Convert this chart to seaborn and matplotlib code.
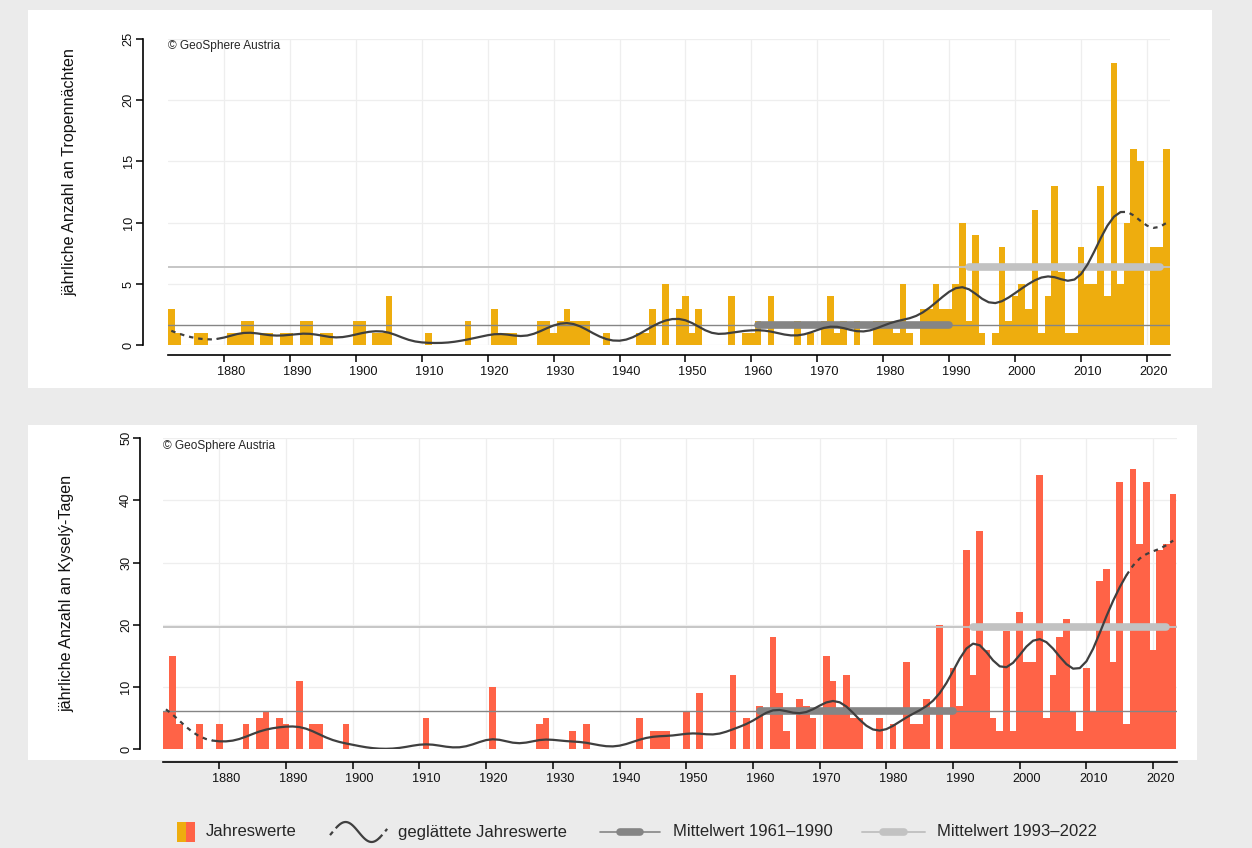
import numpy as np
import pandas as pd
import matplotlib
matplotlib.use("Agg")
import matplotlib.pyplot as plt
import matplotlib.transforms as mtransforms
import seaborn as sns
from matplotlib.patches import Rectangle

# --- data -----------------------------------------------------------------
years = list(range(1872, 2024))

tropennaechte = [
    3, 1, 0, 0, 1, 1, 0, 0,                     # 1872-1879
    0, 1, 1, 2, 2, 0, 1, 1, 0, 1,               # 1880-1889
    1, 0, 2, 2, 0, 1, 1, 0, 0, 0,               # 1890-1899
    2, 2, 0, 1, 1, 4, 0, 0, 0, 0,               # 1900-1909
    0, 1, 0, 0, 0, 0, 0, 2, 0, 0,               # 1910-1919
    0, 3, 1, 1, 1, 0, 0, 0, 2, 2,               # 1920-1929
    1, 2, 3, 2, 2, 2, 0, 0, 1, 0,               # 1930-1939
    0, 0, 0, 1, 1, 3, 0, 5, 0, 3,               # 1940-1949
    4, 1, 3, 0, 0, 0, 0, 4, 0, 1,               # 1950-1959
    1, 2, 0, 4, 0, 0, 0, 2, 0, 1,               # 1960-1969
    0, 2, 4, 1, 2, 0, 2, 0, 0, 2,               # 1970-1979
    2, 2, 1, 5, 1, 0, 3, 3, 5, 3,               # 1980-1989
    3, 5, 10, 2, 9, 1, 0, 1, 8, 2,              # 1990-1999
    4, 5, 3, 11, 1, 4, 13, 6, 1, 1,             # 2000-2009
    8, 5, 5, 13, 4, 23, 5, 10, 16, 15,          # 2010-2019
    0, 8, 8, 16,                                # 2020-2023
]

kysely_tage = [
    6, 15, 4, 0, 0, 4, 0, 0,                    # 1872-1879
    4, 0, 0, 0, 4, 0, 5, 6, 0, 5,               # 1880-1889
    4, 0, 11, 0, 4, 4, 0, 0, 0, 4,              # 1890-1899
    0, 0, 0, 0, 0, 0, 0, 0, 0, 0,               # 1900-1909
    0, 5, 0, 0, 0, 0, 0, 0, 0, 0,               # 1910-1919
    0, 10, 0, 0, 0, 0, 0, 0, 4, 5,              # 1920-1929
    0, 0, 0, 3, 0, 4, 0, 0, 0, 0,               # 1930-1939
    0, 0, 0, 5, 0, 3, 3, 3, 0, 0,               # 1940-1949
    6, 0, 9, 0, 0, 0, 0, 12, 0, 5,              # 1950-1959
    0, 7, 0, 18, 9, 3, 0, 8, 7, 5,              # 1960-1969
    0, 15, 11, 6, 12, 5, 5, 0, 0, 5,            # 1970-1979
    0, 4, 0, 14, 4, 4, 8, 0, 20, 0,             # 1980-1989
    13, 7, 32, 12, 35, 16, 5, 3, 19, 3,         # 1990-1999
    22, 14, 14, 44, 5, 12, 18, 21, 6, 3,        # 2000-2009
    13, 6, 27, 29, 14, 43, 4, 45, 33, 43,       # 2010-2019
    16, 32, 33, 41,                             # 2020-2023
]

ref_old = (1961, 1990)
ref_new = (1993, 2022)
decade_ticks = list(range(1880, 2021, 10))

BAR_TOP = "#EEAD0E"
BAR_BOTTOM = "#FF6347"
SMOOTH = "#3F3F3F"
MEAN_OLD = "#858585"
MEAN_NEW = "#C2C2C2"
BG = "#EBEBEB"

df = pd.DataFrame({"Jahr": years, "Tropennaechte": tropennaechte,
                   "Kysely": kysely_tage})


def gauss_smooth(values, sigma=2.5):
    """Gaussian low-pass filter, renormalised at the series ends"""
    v = np.asarray(values, float)
    idx = np.arange(len(v))
    w = np.exp(-0.5 * ((idx[:, None] - idx[None, :]) / sigma) ** 2)
    return (w @ v) / w.sum(axis=1)


def draw_panel(ax, col, color, ymax, ystep, ylabel, label_xy, x_off, y_off):
    sns.barplot(data=df, x="Jahr", y=col, native_scale=True, width=1,
                color=color, saturation=1, linewidth=0, errorbar=None,
                ax=ax, zorder=2)

    # reference means: thin line over full width + thick segment
    for (y0, y1), c, lw in [(ref_old, MEAN_OLD, 1.0), (ref_new, MEAN_NEW, 1.3)]:
        m = df.loc[df["Jahr"].between(y0, y1), col].mean()
        ax.axhline(m, color=c, lw=lw, zorder=3)
        ax.plot([y0, y1], [m, m], color=c, lw=5.5, solid_capstyle="round",
                zorder=4)

    # smoothed annual values, dashed at both ends
    sm = pd.DataFrame({"Jahr": years, "s": gauss_smooth(df[col])})
    n = len(sm)
    sns.lineplot(data=sm.iloc[7:n - 7], x="Jahr", y="s", color=SMOOTH,
                 lw=1.6, ax=ax, zorder=5)
    for part in (sm.iloc[:8], sm.iloc[n - 8:]):
        sns.lineplot(data=part, x="Jahr", y="s", color=SMOOTH, lw=1.6,
                     linestyle=(0, (2, 2.2)), ax=ax, zorder=5)

    ax.set_xlim(1871.5, 2023.5)
    ax.set_ylim(0, ymax)
    ax.set_xticks(decade_ticks)
    ax.set_yticks(range(0, ymax + 1, ystep))
    ax.grid(True, color="#EEEEEE", lw=0.9)
    ax.set_axisbelow(True)
    ax.set_xlabel("")
    ax.set_ylabel(ylabel, fontsize=11.6, color="#111111")
    ax.yaxis.set_label_coords(*label_xy)

    for s in ("top", "right"):
        ax.spines[s].set_visible(False)
    ax.spines["left"].set_position(("outward", x_off))
    ax.spines["left"].set_bounds(0, ymax)
    ax.spines["bottom"].set_position(("outward", y_off))
    ax.spines["bottom"].set_bounds(1871.5, 2023.5)
    for s in ("left", "bottom"):
        ax.spines[s].set_color("black")
        ax.spines[s].set_linewidth(1.2)
    ax.tick_params(axis="both", direction="out", length=5, width=1.1,
                   color="black", labelsize=9.2, labelcolor="#111111",
                   left=True, bottom=True)
    ax.tick_params(axis="y", pad=1)
    ax.tick_params(axis="x", pad=3)
    for t in ax.get_yticklabels():
        t.set_rotation(90)
        t.set_va("center")
    # year labels sit slightly right of their tick marks in the original
    shift = mtransforms.ScaledTranslation(7 / 100, 0, ax.figure.dpi_scale_trans)
    for t in ax.get_xticklabels():
        t.set_transform(t.get_transform() + shift)
    ax.text(0.0, 0.995, "\u00a9 GeoSphere Austria", transform=ax.transAxes,
            ha="left", va="top", fontsize=8.6, zorder=6)


sns.set_theme(style="white")
plt.rcParams["font.family"] = ["Liberation Sans", "DejaVu Sans"]

W, H = 1252, 848
fig = plt.figure(figsize=(W / 100, H / 100), dpi=100, facecolor=BG)

# white panel backgrounds (behind the axes)
fig.patches.append(Rectangle((28 / W, 1 - 388 / H), (1212 - 28) / W,
                             (388 - 10) / H, transform=fig.transFigure,
                             facecolor="white", edgecolor="none", zorder=-5))
fig.patches.append(Rectangle((28 / W, 1 - 760 / H), (1197 - 28) / W,
                             (760 - 425) / H, transform=fig.transFigure,
                             facecolor="white", edgecolor="none", zorder=-5))

ax1 = fig.add_axes([168 / W, 1 - 345.5 / H, (1170 - 168) / W, (345.5 - 38.5) / H])
ax2 = fig.add_axes([162.6 / W, 1 - 749.3 / H, (1176.5 - 162.6) / W, (749.3 - 438) / H])
for a in (ax1, ax2):
    a.set_facecolor("none")

draw_panel(ax1, "Tropennaechte", BAR_TOP, 25, 5,
           "jährliche Anzahl an Tropennächten", (-0.09, 0.565), 18, 7)
draw_panel(ax2, "Kysely", BAR_BOTTOM, 50, 10,
           "jährliche Anzahl an Kyselý-Tagen", (-0.087, 0.5), 16, 9)

# legend row (drawn in pixel-like layout coordinates)
lg = fig.add_axes([0, 0, 1, 50 / H])
lg.set_xlim(0, W)
lg.set_ylim(50, 0)
lg.axis("off")
yc = 34
lg.add_patch(Rectangle((177, yc - 10), 9, 20, facecolor=BAR_TOP, edgecolor="none"))
lg.add_patch(Rectangle((186, yc - 10), 9, 20, facecolor=BAR_BOTTOM, edgecolor="none"))
lg.text(206, yc, "Jahreswerte", va="center", ha="left", fontsize=12)

gx = np.linspace(-0.05, 1.05, 66)
gy = yc - 10 * np.sin(2 * np.pi * gx)
gxx = 330 + (gx + 0.05) * 52
lg.plot(gxx[9:57], gy[9:57], color=SMOOTH, lw=1.6)
lg.plot(gxx[:10], gy[:10], color=SMOOTH, lw=1.6, ls=(0, (2, 2)))
lg.plot(gxx[56:], gy[56:], color=SMOOTH, lw=1.6, ls=(0, (2, 2)))
lg.text(398, yc, "geglättete Jahreswerte", va="center", ha="left", fontsize=12)

lg.plot([600, 660], [yc, yc], color=MEAN_OLD, lw=1.2)
lg.plot([620, 640], [yc, yc], color=MEAN_OLD, lw=5.5, solid_capstyle="round")
lg.text(673, yc, "Mittelwert 1961\u20131990", va="center", ha="left", fontsize=12)

lg.plot([862, 925], [yc, yc], color=MEAN_NEW, lw=1.4)
lg.plot([883, 904], [yc, yc], color=MEAN_NEW, lw=5.5, solid_capstyle="round")
lg.text(937, yc, "Mittelwert 1993\u20132022", va="center", ha="left", fontsize=12)

fig.savefig("out.png", dpi=100, facecolor=BG)
